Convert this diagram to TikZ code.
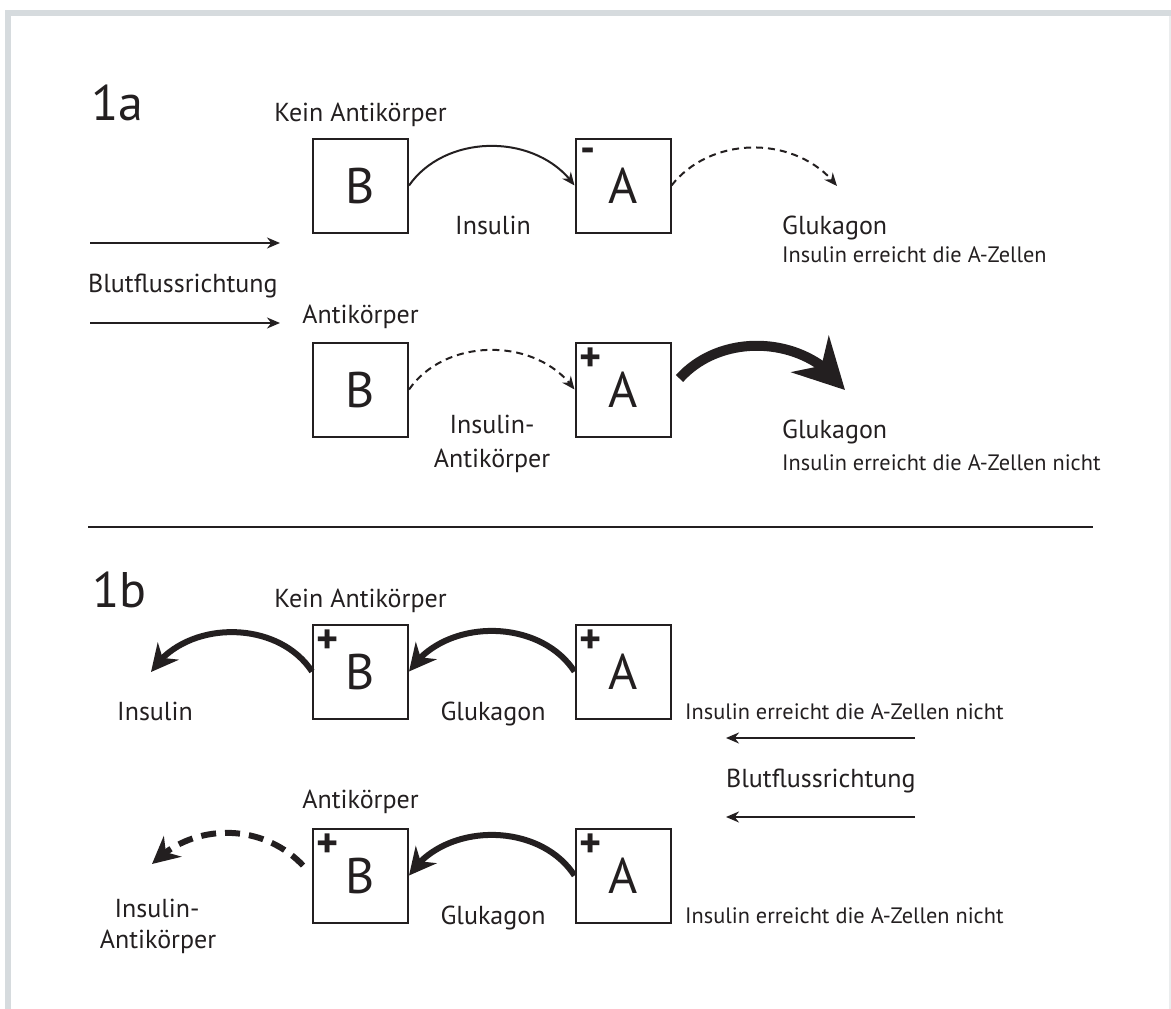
\documentclass[tikz,border=0pt]{standalone}
\usepackage{fontspec}
\setmainfont{PT Sans}
\usepackage{tikz}
\usetikzlibrary{
    arrows.meta,
    bending
}
\definecolor{ink}{HTML}{231F20}
\definecolor{framegray}{HTML}{D6DBDE}
\tikzset
{
  cell/.style={draw=ink,line width=2pt,minimum width=95pt,minimum height=94pt,inner sep=0pt,text=ink,font=\fontsize{50}{50}\selectfont},
  sign/.style={inner sep=0pt,text=ink,font=\bfseries\fontsize{42}{42}\selectfont},
  big/.style={inner sep=0pt,text=ink,font=\fontsize{50}{50}\selectfont},
  txt/.style={inner sep=0pt,text=ink,font=\fontsize{26}{30}\selectfont},
  small/.style={inner sep=0pt,text=ink,font=\fontsize{22.3}{26}\selectfont},
  flow/.style={draw=ink,line width=2pt,-{Stealth[length=13pt,width=11pt]}},
  weak/.style={flow,dash pattern=on 7pt off 5pt},
  strong/.style={draw=ink,line width=6pt,-{Stealth[length=27pt,width=27pt,flex]}},
  faded/.style={strong,dash pattern=on 15pt off 9pt},
  surge/.style={draw=ink,line width=10pt,-{Stealth[length=50pt,width=52pt,flex]}}
}

\begin{document}
\begin{tikzpicture}[x=1pt,y=1pt]
    \useasboundingbox (0,0) rectangle (1171,-1009);

    % Frame
    \fill[framegray] (5,-10) rectangle (1171,-16);
    \fill[framegray] (5,-10) rectangle (11,-1009);
    \draw[framegray!50,line width=1.5pt] (1170,-16) -- (1170,-1009);

    % 1a: cells
    \node[big,anchor=base west] (t1a) at (91,-120) {1a};
    \node[cell] (b1) at (360.5,-185.5) {B};
    \node[cell] (a1) at (623,-185.5) {A};
    \node[cell] (b2) at (360.5,-389.5) {B};
    \node[cell] (a2) at (623,-389.5) {A};
    \node[sign] (s1) at ([shift={(14pt,-18pt)}]a1.north west) {-};
    \node[sign] (s2) at ([shift={(16pt,-18pt)}]a2.north west) {+};

    \node[txt,anchor=base] (k1) at (360.5,-121) {Kein Antikörper};
    \node[txt,anchor=base] (k2) at (360.5,-323) {Antikörper};
    \node[txt,anchor=base] (i1) at (493,-234) {Insulin};
    \node[txt,anchor=base] (i2) at (492,-433) {Insulin-};
    \node[txt,anchor=base] (i3) at (492,-467) {Antikörper};
    \node[txt,anchor=base west] (g1) at (782,-234) {Glukagon};
    \node[small,anchor=base west] (e1) at (782,-262) {Insulin erreicht die A-Zellen};
    \node[txt,anchor=base west] (g2) at (782,-438) {Glukagon};
    \node[small,anchor=base west] (e2) at (782,-470) {Insulin erreicht die A-Zellen nicht};

    % blood flow, left to right
    \coordinate (f1s) at (90,-243);
    \coordinate (f1e) at (280,-243);
    \coordinate (f2s) at (90,-323);
    \coordinate (f2e) at (280,-323);
    \draw[flow] (f1s) -- (f1e);
    \draw[flow] (f2s) -- (f2e);
    \node[txt,anchor=base west] (bf1) at (88,-292) {Blutflussrichtung};

    % 1a: hormones
    \coordinate (t1) at (837,-186);
    \coordinate (t2) at (845,-390);
    \draw[flow] (b1.east) to[bend left=55] (a1.west);
    \draw[weak] (a1.east) to[bend left=52] (t1);
    \draw[weak] (b2.east) to[bend left=55] (a2.west);
    \draw[surge] ([shift={(8pt,11pt)}]a2.east) to[bend left=52] (t2);

    % Separator
    \draw[ink,line width=2pt] (88,-527) -- (1093,-527);

    % 1b: cells
    \node[big,anchor=base west] (t1b) at (92,-607) {1b};
    \node[cell] (b3) at (360.5,-671.5) {B};
    \node[cell] (a3) at (623,-671.5) {A};
    \node[cell] (b4) at (360.5,-875.5) {B};
    \node[cell] (a4) at (623,-875.5) {A};
    \node[sign] (s3) at ([shift={(16pt,-18pt)}]b3.north west) {+};
    \node[sign] (s4) at ([shift={(16pt,-18pt)}]a3.north west) {+};
    \node[sign] (s5) at ([shift={(16pt,-18pt)}]b4.north west) {+};
    \node[sign] (s6) at ([shift={(16pt,-18pt)}]a4.north west) {+};

    \node[txt,anchor=base] (k3) at (360.5,-607) {Kein Antikörper};
    \node[txt,anchor=base] (k4) at (360.5,-808) {Antikörper};
    \node[txt,anchor=base] (i4) at (155,-720) {Insulin};
    \node[txt,anchor=base] (i5) at (157,-917) {Insulin-};
    \node[txt,anchor=base] (i6) at (158,-948) {Antikörper};
    \node[txt,anchor=base] (g3) at (493,-720) {Glukagon};
    \node[txt,anchor=base] (g4) at (493,-924) {Glukagon};
    \node[small,anchor=base west] (e3) at (685,-719) {Insulin erreicht die A-Zellen nicht};
    \node[small,anchor=base west] (e4) at (685,-923) {Insulin erreicht die A-Zellen nicht};

    % blood flow, right to left
    \coordinate (f3s) at (915,-738);
    \coordinate (f3e) at (726,-738);
    \coordinate (f4s) at (915,-817);
    \coordinate (f4e) at (726,-817);
    \draw[flow] (f3s) -- (f3e);
    \draw[flow] (f4s) -- (f4e);
    \node[txt,anchor=base west] (bf2) at (726,-787) {Blutflussrichtung};

    % 1b: hormones
    \coordinate (t3) at (151,-672);
    \coordinate (t4) at (152,-864);
    \draw[strong] (a3.west) to[bend right=57] (b3.east);
    \draw[strong] (b3.west) to[bend right=57] (t3);
    \draw[strong] (a4.west) to[bend right=57] (b4.east);
    \draw[faded] ([shift={(-9pt,10pt)}]b4.west) to[bend right=46] (t4);
\end{tikzpicture}
\end{document}
